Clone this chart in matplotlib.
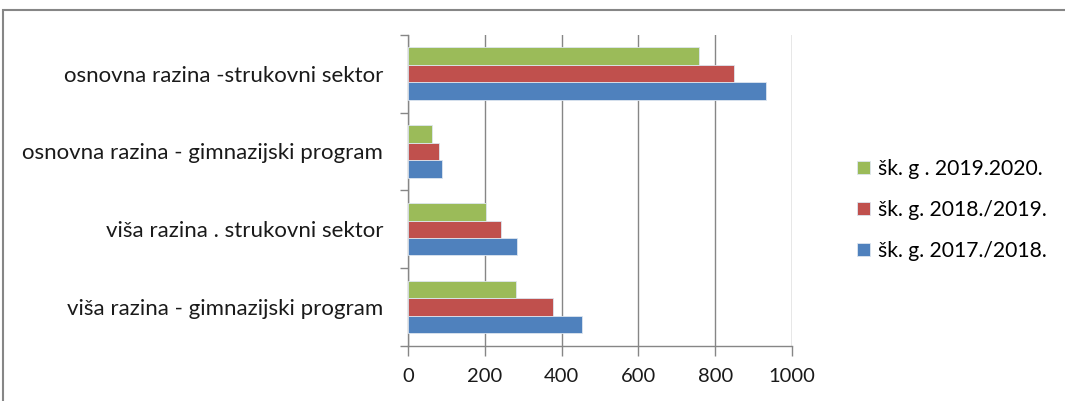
import matplotlib.pyplot as plt
import numpy as np
from matplotlib.patches import Rectangle

categories = ['viša razina - gimnazijski program',
              'viša razina . strukovni sektor',
              'osnovna razina - gimnazijski program',
              'osnovna razina -strukovni sektor']
series_names = ['šk. g. 2017./2018.', 'šk. g. 2018./2019.', 'šk. g . 2019.2020.']
y2017 = [452, 283, 88, 933]
y2018 = [377, 241, 82, 849]
y2019 = [280, 202, 62, 757]
colors = ['#4F81BD', '#C0504D', '#9BBB59']

plt.rcParams['font.family'] = ['Lato', 'DejaVu Sans']

fig = plt.figure(figsize=(10.65, 4.01), dpi=100)
ax = fig.add_axes([408 / 1065, 1 - 346 / 401, 384 / 1065, (346 - 34.7) / 401])

# outer chart border
fig.patches.append(Rectangle((3 / 1065, -0.1), 1.1, 1 - 10 / 401 + 0.1,
                             transform=fig.transFigure, fill=False,
                             edgecolor='#868686', linewidth=1.5))

y = np.arange(len(categories))
h = 0.224
handles = []
for i, (vals, col, name) in enumerate(zip([y2017, y2018, y2019], colors, series_names)):
    b = ax.barh(y + (i - 1) * h, vals, height=h, color=col, edgecolor='#dde6f0',
                linewidth=0.6, label=name, zorder=3)
    handles.append(b)

ax.set_xlim(0, 1000)
ax.set_ylim(-0.5, 3.5)
ax.set_xticks(np.arange(0, 1001, 200))
ax.set_yticks(np.arange(-0.5, 3.6, 1))
ax.set_yticklabels([])
ax.set_yticks(y, minor=True)
ax.set_yticklabels(categories, minor=True, fontsize=16, color='#1a1a1a')
ax.tick_params(axis='y', which='minor', length=0, pad=18)
ax.tick_params(axis='y', which='major', length=6, color='#868686', width=1)
ax.tick_params(axis='x', length=7, color='#868686', width=1, pad=9,
               labelsize=14.5, labelcolor='#1a1a1a')
ax.grid(axis='x', color='#868686', linewidth=1, zorder=0)
for s in ['top', 'right']:
    ax.spines[s].set_visible(False)
for s in ['left', 'bottom']:
    ax.spines[s].set_color('#868686')
    ax.spines[s].set_linewidth(1)

fig.legend(handles[::-1], series_names[::-1], loc='upper left',
           bbox_to_anchor=(838 / 1065, 1 - 140 / 401), frameon=False,
           fontsize=15.2, handlelength=0.6, handleheight=0.6,
           handletextpad=0.4, labelspacing=1.0)

fig.savefig('out.png', dpi=100)
